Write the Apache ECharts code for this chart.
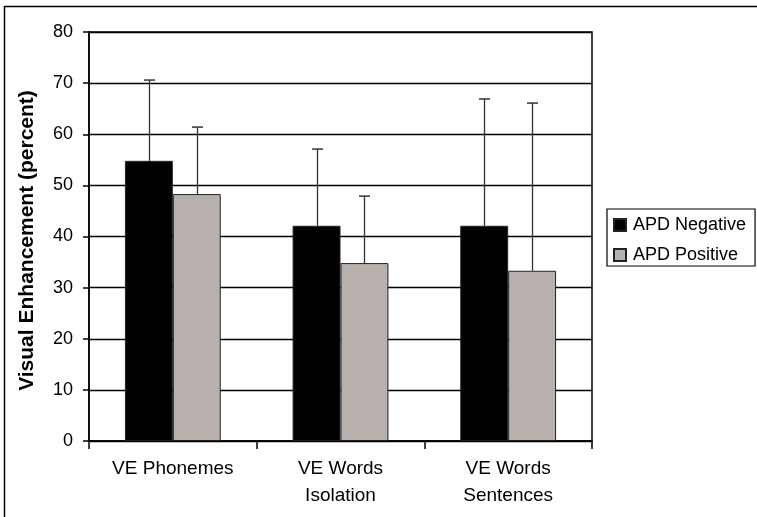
<!DOCTYPE html>
<html><head><meta charset="utf-8">
<script src="https://cdn.jsdelivr.net/npm/echarts@6/dist/echarts.min.js"></script>
<style>html,body{margin:0;padding:0;background:#fff}#c{width:757px;height:517px}</style>
</head><body><div id="c"></div>
<script>
var categories = ['VE Phonemes', 'VE Words\nIsolation', 'VE Words\nSentences'];
var seriesNames = ['APD Negative', 'APD Positive'];
var negMean = [54.8, 42.1, 42.1];
var negUpper = [70.6, 57.1, 66.9];
var posMean = [48.3, 34.8, 33.3];
var posUpper = [61.4, 47.9, 66.1];
var yTicks = [0, 10, 20, 30, 40, 50, 60, 70, 80];

var chart = echarts.init(document.getElementById('c'));
var font = 'Liberation Sans, Arial, sans-serif';

function errSeries(upper, mean, side) {
  return {
    type: 'custom',
    z: 5,
    silent: true,
    data: upper.map(function (u, i) { return [i, mean[i], u]; }),
    renderItem: function (params, api) {
      var i = api.value(0);
      var bw = api.size([1, 0])[0] * 0.5715 / 2;
      var p0 = api.coord([i, api.value(1)]);
      var p1 = api.coord([i, api.value(2)]);
      var x = Math.round(p0[0] + side * bw / 2) + 0.5;
      var cap = 5.5;
      return {
        type: 'group',
        children: [
          { type: 'line', shape: { x1: x, y1: p0[1], x2: x, y2: p1[1] }, style: { stroke: '#333', lineWidth: 1.3 } },
          { type: 'line', shape: { x1: x - cap, y1: p1[1], x2: x + cap, y2: p1[1] }, style: { stroke: '#333', lineWidth: 1.5 } }
        ]
      };
    }
  };
}

chart.setOption({
  animation: false,
  backgroundColor: '#fff',
  graphic: [
    { type: 'line', shape: { x1: 4, y1: 6.5, x2: 757, y2: 6.5 }, style: { stroke: '#000', lineWidth: 1.5 } },
    { type: 'line', shape: { x1: 4.5, y1: 6, x2: 4.5, y2: 517 }, style: { stroke: '#000', lineWidth: 1.5 } }
  ],
  grid: { left: 89, right: 165, top: 32, bottom: 76, show: true, borderColor: '#000', borderWidth: 1.5 },
  legend: {
    data: seriesNames,
    orient: 'vertical',
    left: 607, top: 209,
    padding: [7, 9, 2, 6],
    itemGap: 12,
    itemWidth: 12, itemHeight: 12,
    icon: 'rect',
    borderColor: '#000', borderWidth: 1.2,
    textStyle: { fontFamily: font, fontSize: 18, lineHeight: 18, color: '#000', padding: [0, 0, 0, 2] }
  },
  xAxis: {
    type: 'category',
    data: categories,
    axisLine: { lineStyle: { color: '#000', width: 1.5 } },
    axisTick: { show: true, length: 8, lineStyle: { color: '#000', width: 1.5 } },
    axisLabel: { fontFamily: font, fontSize: 19, color: '#000', margin: 14, lineHeight: 27 }
  },
  yAxis: {
    type: 'value',
    min: 0, max: 80, interval: 10,
    name: 'Visual Enhancement (percent)',
    nameLocation: 'middle',
    nameGap: 51,
    nameTextStyle: { fontFamily: font, fontSize: 21, fontWeight: 'bold', color: '#000', padding: [0, 0, 0, -8] },
    axisLine: { show: true, lineStyle: { color: '#000', width: 1.5 } },
    axisTick: { show: true, length: 6, lineStyle: { color: '#000', width: 1.5 } },
    axisLabel: { fontFamily: font, fontSize: 18, color: '#000', margin: 16,
      formatter: function (v) { return yTicks.indexOf(v) >= 0 ? String(v) : ''; } },
    splitLine: { lineStyle: { color: '#000', width: 1.3 } }
  },
  series: [
    { name: seriesNames[0], type: 'bar', data: negMean, barGap: '0%', barCategoryGap: '42.85%',
      itemStyle: { color: '#000', borderColor: '#222', borderWidth: 1 } },
    { name: seriesNames[1], type: 'bar', data: posMean,
      itemStyle: { color: '#b8b0ad', borderColor: '#222', borderWidth: 1 } },
    errSeries(negUpper, negMean, -1),
    errSeries(posUpper, posMean, 1)
  ]
});
</script></body></html>
